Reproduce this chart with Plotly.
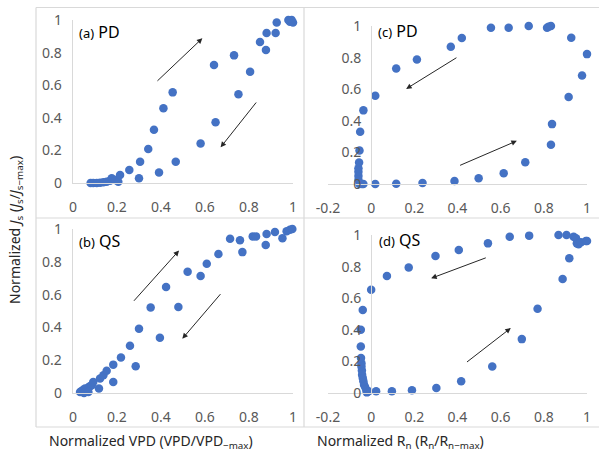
import plotly.graph_objects as go

# ---------------- data ----------------
a_x = [0.080, 0.092, 0.108, 0.123, 0.138, 0.153, 0.168, 0.176, 0.191, 0.206, 0.214, 0.256, 0.300, 0.305,
       0.342, 0.368, 0.391, 0.411, 0.453, 0.467, 0.580, 0.641, 0.648, 0.732, 0.752, 0.805, 0.850, 0.877,
       0.880, 0.921, 0.926, 0.979, 0.986, 1.000, 0.994]
a_y = [0.000, 0.000, 0.000, 0.002, 0.004, 0.008, 0.014, 0.029, 0.018, 0.008, 0.049, 0.080, 0.029, 0.131,
       0.209, 0.327, 0.065, 0.458, 0.556, 0.131, 0.243, 0.724, 0.372, 0.783, 0.544, 0.683, 0.865, 0.816,
       0.920, 0.920, 0.984, 1.000, 0.990, 0.984, 1.000]

b_x = [0.032, 0.039, 0.047, 0.055, 0.062, 0.070, 0.077, 0.085, 0.092, 0.050, 0.070, 0.118, 0.123, 0.138,
       0.153, 0.183, 0.183, 0.218, 0.259, 0.285, 0.300, 0.353, 0.395, 0.423, 0.479, 0.521, 0.580, 0.608,
       0.661, 0.714, 0.759, 0.770, 0.817, 0.832, 0.876, 0.880, 0.918, 0.952, 0.971, 0.986, 0.997]
b_y = [0.006, 0.012, 0.020, 0.027, 0.016, 0.033, 0.041, 0.047, 0.067, 0.000, 0.006, 0.027, 0.088, 0.108,
       0.135, 0.173, 0.067, 0.216, 0.288, 0.163, 0.392, 0.522, 0.337, 0.647, 0.524, 0.739, 0.714, 0.788,
       0.847, 0.941, 0.931, 0.859, 0.955, 0.955, 0.902, 0.969, 0.982, 0.943, 0.986, 0.996, 1.000]

c_x = [-0.054, -0.043, -0.036, -0.059, -0.059, -0.059, -0.059, -0.056, -0.054, -0.051, -0.036, 0.019,
       0.019, 0.116, 0.116, 0.212, 0.238, 0.369, 0.386, 0.420, 0.498, 0.555, 0.614, 0.637, 0.714, 0.730,
       0.815, 0.822, 0.833, 0.833, 0.838, 0.915, 0.927, 0.977, 1.000]
c_y = [0.000, 0.000, 0.000, 0.025, 0.051, 0.078, 0.100, 0.136, 0.212, 0.331, 0.466, 0.559,
       0.000, 0.002, 0.731, 0.788, 0.006, 0.869, 0.019, 0.924, 0.036, 0.989, 0.068, 0.989, 0.138, 1.000,
       0.989, 0.995, 1.000, 0.248, 0.379, 0.551, 0.926, 0.686, 0.822]

d_x = [-0.020, -0.012, -0.023, -0.028, -0.033, -0.036, -0.039, -0.042, -0.043, -0.045, -0.045, -0.047,
       -0.048, -0.048, -0.039, 0.000, 0.023, 0.073, 0.096, 0.174, 0.189, 0.298, 0.302, 0.406, 0.417,
       0.541, 0.561, 0.642, 0.698, 0.732, 0.771, 0.868, 0.887, 0.905, 0.918, 0.938, 0.949, 0.953, 0.961,
       0.972, 0.995, 1.000]
d_y = [0.004, 0.011, 0.021, 0.038, 0.053, 0.074, 0.095, 0.116, 0.143, 0.168, 0.189, 0.221,
       0.295, 0.400, 0.526, 0.653, 0.011, 0.741, 0.011, 0.794, 0.017, 0.867, 0.032, 0.905, 0.074,
       0.947, 0.168, 0.989, 0.341, 0.996, 0.533, 1.000, 0.722, 1.000, 0.853, 0.989, 0.979, 0.947, 0.941,
       0.954, 0.962, 0.962]

# arrows: (tail x, tail y, head x, head y)
a_arrows = [(0.377, 0.618, 0.588, 0.888), (0.838, 0.503, 0.671, 0.219)]
b_arrows = [(0.271, 0.553, 0.482, 0.869), (0.676, 0.612, 0.497, 0.331)]
c_arrows = [(0.402, 0.805, 0.162, 0.602), (0.405, 0.114, 0.675, 0.273)]
d_arrows = [(0.538, 0.859, 0.278, 0.726), (0.437, 0.189, 0.647, 0.411)]

panel_labels = [("(a)", "PD"), ("(b)", "QS"), ("(c)", "PD"), ("(d)", "QS")]
vpd_ticks = [0, 0.2, 0.4, 0.6, 0.8, 1]
rn_ticks = [-0.2, 0, 0.2, 0.4, 0.6, 0.8, 1]
y_ticks = [0, 0.2, 0.4, 0.6, 0.8, 1]

# ---------------- layout helpers ----------------
W, H = 599, 459
def px_x(p):
    return p / W
def px_y(p):
    return 1 - p / H

BLUE = "#4472C4"
TICK = "#595959"
AXLINE = "#d9d9d9"
FONT = "Noto Sans"

# plot areas in window pixels: (x_left, x_right, y_top, y_bottom)
areas = {
    "a": (73, 293, 20, 183),
    "c": (328, 587, 26, 184),
    "b": (73, 293, 229, 393),
    "d": (328, 587, 235, 393),
}

fig = go.Figure()
series = [("a", a_x, a_y), ("b", b_x, b_y), ("c", c_x, c_y), ("d", d_x, d_y)]
axis_ids = {"a": "", "b": "2", "c": "3", "d": "4"}
for key, xs, ys in series:
    i = axis_ids[key]
    fig.add_trace(go.Scatter(x=xs, y=ys, mode="markers", xaxis="x" + i, yaxis="y" + i,
                             marker=dict(color=BLUE, size=8.5, line=dict(width=0)),
                             cliponaxis=False, showlegend=False, hoverinfo="skip"))

tickfont = dict(family=FONT, size=14, color=TICK)
for key in ["a", "b", "c", "d"]:
    i = axis_ids[key]
    x0, x1, y0, y1 = areas[key]
    dom_x = [px_x(x0), px_x(x1)]
    dom_y = [px_y(y1), px_y(y0)]
    if key in ("a", "b"):
        xr = [0, 1]
        xt = vpd_ticks
        yax = dict(domain=dom_y, range=[0, 1], anchor="x" + i)
    else:
        xr = [-0.2, 1]
        xt = rn_ticks
        pos = dom_x[0] + (dom_x[1] - dom_x[0]) * (0.2 / 1.2)
        yax = dict(domain=dom_y, range=[0, 1], anchor="free", position=pos)
    xax = dict(domain=dom_x, range=xr, anchor="y" + i, showgrid=False, zeroline=False,
               showline=True, linecolor=AXLINE, linewidth=1.3, ticks="", automargin=False,
               tickvals=xt, ticktext=[("%g" % v) for v in xt], tickfont=tickfont,
               ticklabelstandoff=11)
    yax.update(showgrid=False, zeroline=False, showline=True, linecolor=AXLINE, linewidth=1.3,
               ticks="", tickvals=y_ticks, ticktext=[("%g" % v) for v in y_ticks], automargin=False,
               tickfont=tickfont, ticklabelstandoff=7)
    fig.layout["xaxis" + i] = xax
    fig.layout["yaxis" + i] = yax

annotations = []
# arrows
for key, arrs in [("a", a_arrows), ("b", b_arrows), ("c", c_arrows), ("d", d_arrows)]:
    i = axis_ids[key]
    for tx, ty, hx, hy in arrs:
        annotations.append(dict(x=hx, y=hy, ax=tx, ay=ty, xref="x" + i, yref="y" + i,
                                axref="x" + i, ayref="y" + i, text="", showarrow=True,
                                arrowhead=2, arrowsize=1.1, arrowwidth=1, arrowcolor="#262626"))

# panel labels
label_pos = {"a": (77, 32), "b": (77, 241), "c": (376, 31), "d": (377, 240)}
for key, (p1, p2) in zip(["a", "b", "c", "d"], panel_labels):
    lx, ly = label_pos[key]
    annotations.append(dict(x=px_x(lx), y=px_y(ly), xref="paper", yref="paper", showarrow=False,
                            xanchor="left", yanchor="middle",
                            text=f"<span style='font-size:13px'>{p1}</span> {p2}",
                            font=dict(family=FONT, size=16, color="#000000")))

title_font = dict(family=FONT, size=14, color="#262626")
annotations.append(dict(x=px_x(151), y=px_y(441), xref="paper", yref="paper", showarrow=False,
                        xanchor="center", yanchor="middle",
                        text="Normalized VPD (VPD/VPD<sub>\u2212max</sub>)", font=title_font))
annotations.append(dict(x=px_x(400), y=px_y(441), xref="paper", yref="paper", showarrow=False,
                        xanchor="center", yanchor="middle",
                        text="Normalized R<sub>n</sub> (R<sub>n</sub>/R<sub>n\u2212max</sub>)", font=title_font))
annotations.append(dict(x=px_x(16), y=px_y(230), xref="paper", yref="paper", showarrow=False,
                        xanchor="center", yanchor="middle", textangle=-90,
                        text="Normalized <i>J</i><sub>s</sub> (<i>J</i><sub>s</sub>/<i>J</i><sub>s\u2212max</sub>)",
                        font=title_font))

# frame lines
shapes = []
frame = dict(type="line", xref="paper", yref="paper", line=dict(color=AXLINE, width=1.2))
for (x0, y0, x1, y1) in [(36, 7.5, 600, 7.5), (36, 427, 600, 427), (36, 7.5, 36, 427),
                         (304, 7.5, 304, 427), (36, 218, 600, 218)]:
    s = dict(frame)
    s.update(x0=px_x(x0), x1=px_x(x1), y0=px_y(y0), y1=px_y(y1))
    shapes.append(s)

fig.update_layout(template="none", width=W, height=H, margin=dict(l=0, r=0, t=0, b=0, pad=0),
                  paper_bgcolor="white", plot_bgcolor="white", hovermode=False,
                  annotations=annotations, shapes=shapes, showlegend=False)

# remove the default 8px page margin so the figure sits at the window's top-left corner
fig.write_html("out.html", config={"displayModeBar": False, "staticPlot": True},
               post_script="document.body.style.margin='0';document.body.style.overflow='hidden';")
